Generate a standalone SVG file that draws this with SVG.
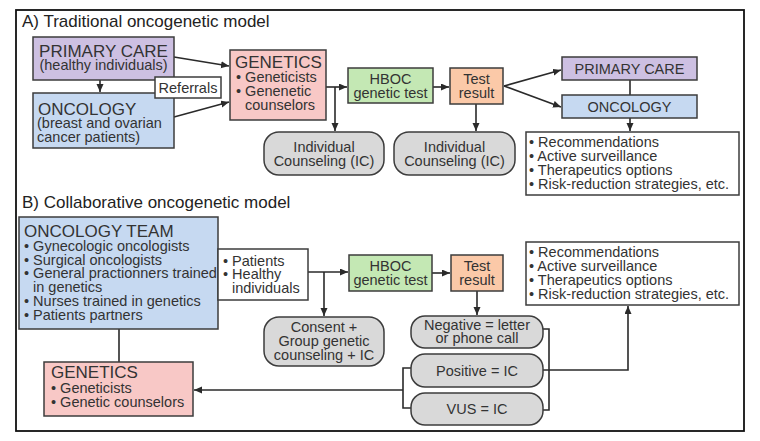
<svg xmlns="http://www.w3.org/2000/svg" width="760" height="441" viewBox="0 0 760 441">
<defs>
<style>
text{font-family:"Liberation Sans",Arial,sans-serif;fill:#333;font-size:14.5px}
.h{font-size:17px}
.t{font-size:17px;fill:#222}
.c{text-anchor:middle}
.box{stroke:#3c3c3c;stroke-width:1.5}
.pur{fill:#cdc0e2}.blu{fill:#c6d9f1}.pnk{fill:#f8c8c6}.grn{fill:#c4e8b4}.org{fill:#fbc9a8}.gry{fill:#d9d9d9}.wht{fill:#fff}
.ln{fill:none;stroke:#2a2a2a;stroke-width:1.6}
.ar{marker-end:url(#ah)}
</style>
<marker id="ah" markerUnits="userSpaceOnUse" markerWidth="9" markerHeight="8" refX="8" refY="3.5" orient="auto">
<path d="M0,0 L8,3.5 L0,7 z" fill="#2a2a2a"/>
</marker>
</defs>
<rect x="0" y="0" width="760" height="441" fill="#fff"/>
<rect x="16" y="10" width="728" height="421" fill="none" stroke="#111" stroke-width="1.8"/>
<text class="t" x="22" y="27">A) Traditional oncogenetic model</text>
<text class="t" x="22" y="208">B) Collaborative oncogenetic model</text>

<g id="connectors">
<!-- A -->
<path class="ln ar" d="M174,57 L229,66"/>
<path class="ln ar" d="M174,117 L229,102"/>
<path class="ln ar" d="M100,80 L100,92"/>
<path class="ln ar" d="M326,87 L347,87"/>
<path class="ln ar" d="M335,87 L335,131"/>
<path class="ln ar" d="M433,87 L449,87"/>
<path class="ln ar" d="M476,104 L476,131"/>
<path class="ln ar" d="M504,86 L561,70"/>
<path class="ln ar" d="M504,86 L561,107"/>
<path class="ln" d="M630,80 L630,95"/>
<path class="ln ar" d="M630,118 L630,131"/>
<!-- B -->
<path class="ln ar" d="M308,272 L348,272"/>
<path class="ln ar" d="M324,272 L324,316"/>
<path class="ln ar" d="M432,273 L450,273"/>
<path class="ln ar" d="M477,291 L477,315"/>
<path class="ln" d="M541,329 L549,329 L549,410 L541,410"/>
<path class="ln ar" d="M543,370 L628,370 L628,306"/>
<path class="ln" d="M413,368 L403,368 L403,408 L413,408"/>
<path class="ln ar" d="M403,390 L194,390"/>
<path class="ln" d="M119,329 L119,362"/>
</g>

<g id="a-primary-care">
<rect class="box pur" x="33" y="37" width="141" height="43"/>
<text class="h c" x="103.5" y="57">PRIMARY CARE</text>
<text class="c" x="103.5" y="70">(healthy individuals)</text>
</g>
<g id="a-oncology">
<rect class="box blu" x="33" y="93" width="141" height="55"/>
<text class="h" x="38" y="115">ONCOLOGY</text>
<text x="37" y="128">(breast and ovarian</text>
<text x="37" y="142">cancer patients)</text>
</g>
<g id="a-referrals">
<rect class="box wht" x="155" y="77" width="66" height="21"/>
<text class="c" x="188" y="93">Referrals</text>
</g>
<g id="a-genetics">
<rect class="box pnk" x="230" y="50" width="96" height="70"/>
<text class="h" x="235" y="68">GENETICS</text>
<text x="236" y="82">• Geneticists</text>
<text x="236" y="96">• Genenetic</text>
<text x="245" y="110">counselors</text>
</g>
<g id="a-hboc">
<rect class="box grn" x="348" y="68" width="85" height="35"/>
<text class="c" x="390.5" y="84">HBOC</text>
<text class="c" x="390.5" y="98">genetic test</text>
</g>
<g id="a-test">
<rect class="box org" x="450" y="68" width="53" height="36"/>
<text class="c" x="476.5" y="84">Test</text>
<text class="c" x="476.5" y="98">result</text>
</g>
<g id="a-ic1">
<rect class="box gry" x="264" y="132" width="120" height="43" rx="15"/>
<text class="c" x="324" y="152">Individual</text>
<text class="c" x="324" y="166">Counseling (IC)</text>
</g>
<g id="a-ic2">
<rect class="box gry" x="394" y="132" width="121" height="43" rx="15"/>
<text class="c" x="454.5" y="152">Individual</text>
<text class="c" x="454.5" y="166">Counseling (IC)</text>
</g>
<g id="a-primary-care-2">
<rect class="box pur" x="562" y="57" width="135" height="23"/>
<text class="c" x="629.5" y="74">PRIMARY CARE</text>
</g>
<g id="a-oncology-2">
<rect class="box blu" x="562" y="95" width="135" height="23"/>
<text class="c" x="629.5" y="112">ONCOLOGY</text>
</g>
<g id="a-recommendations">
<rect class="box wht" x="526" y="132" width="213" height="63"/>
<text x="529" y="147">• Recommendations</text>
<text x="529" y="161">• Active surveillance</text>
<text x="529" y="175">• Therapeutics options</text>
<text x="529" y="189">• Risk-reduction strategies, etc.</text>
</g>

<g id="b-oncology-team">
<rect class="box blu" x="19" y="217" width="199" height="112"/>
<text class="h" x="24" y="237">ONCOLOGY TEAM</text>
<text x="24" y="251">• Gynecologic oncologists</text>
<text x="24" y="264.7">• Surgical oncologists</text>
<text x="24" y="278.4">• General practionners trained</text>
<text x="33" y="292.1">in genetics</text>
<text x="24" y="305.8">• Nurses trained in genetics</text>
<text x="24" y="319.5">• Patients partners</text>
</g>
<g id="b-patients">
<rect class="box wht" x="218" y="249" width="90" height="51"/>
<text x="223" y="265.5">• Patients</text>
<text x="223" y="279">• Healthy</text>
<text x="232" y="292.5">individuals</text>
</g>
<g id="b-hboc">
<rect class="box grn" x="349" y="255" width="83" height="36"/>
<text class="c" x="390.5" y="271">HBOC</text>
<text class="c" x="390.5" y="285">genetic test</text>
</g>
<g id="b-test">
<rect class="box org" x="451" y="255" width="52" height="36"/>
<text class="c" x="477" y="271">Test</text>
<text class="c" x="477" y="285">result</text>
</g>
<g id="b-consent">
<rect class="box gry" x="264" y="317" width="120" height="49" rx="15"/>
<text class="c" x="324" y="332">Consent +</text>
<text class="c" x="324" y="346">Group genetic</text>
<text class="c" x="324" y="360">counseling + IC</text>
</g>
<g id="b-negative">
<rect class="box gry" x="411" y="316" width="132" height="32" rx="14"/>
<text class="c" x="477" y="330">Negative = letter</text>
<text class="c" x="477" y="343">or phone call</text>
</g>
<g id="b-positive">
<rect class="box gry" x="411" y="354" width="132" height="33" rx="14"/>
<text class="c" x="477" y="376">Positive = IC</text>
</g>
<g id="b-vus">
<rect class="box gry" x="411" y="393" width="132" height="32" rx="14"/>
<text class="c" x="477" y="414">VUS = IC</text>
</g>
<g id="b-recommendations">
<rect class="box wht" x="526" y="242" width="213" height="63"/>
<text x="529" y="257">• Recommendations</text>
<text x="529" y="271">• Active surveillance</text>
<text x="529" y="285">• Therapeutics options</text>
<text x="529" y="299">• Risk-reduction strategies, etc.</text>
</g>
<g id="b-genetics">
<rect class="box pnk" x="44" y="362" width="149" height="54"/>
<text class="h" x="51" y="378">GENETICS</text>
<text x="51" y="393">• Geneticists</text>
<text x="51" y="407">• Genetic counselors</text>
</g>
</svg>
